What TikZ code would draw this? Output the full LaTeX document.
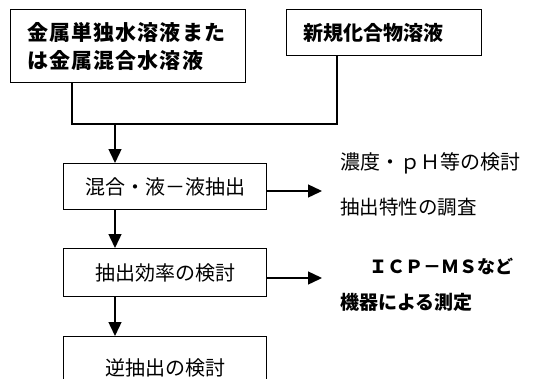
\documentclass[tikz,border=0pt]{standalone}
\usepackage{fontspec}
\setmainfont{Noto Sans CJK JP}
\newfontfamily\jpw[LetterSpace=5]{Noto Sans CJK JP}
\usetikzlibrary{arrows.meta}
\begin{document}
\begin{tikzpicture}[x=1pt,y=-1pt,
  box/.style={draw, line width=1.4pt, inner ysep=0pt},
  ar/.style={-{Triangle[length=14pt,width=13pt]}, line width=1.4pt},
  ln/.style={line width=1.4pt},
  txt/.style={inner sep=0pt, anchor=west},
  regf/.style={font=\fontsize{20pt}{24pt}\selectfont},
  boldf/.style={font=\jpw\bfseries\fontsize{21pt}{28pt}\selectfont}]
\useasboundingbox (0,0) rectangle (546,378);
\clip (0,0) rectangle (546,378);
\node[box, boldf, anchor=north west, inner xsep=17pt, text width=201pt, align=left, minimum height=73pt] (b1) at (10,9) {金属単独水溶液また\\は金属混合水溶液};
\node[box, font=\bfseries\fontsize{20pt}{24pt}\selectfont, anchor=north west, inner xsep=17pt, text width=161pt, align=left, minimum height=46pt] (b2) at (286,9) {新規化合物溶液};
\node[box, regf, anchor=north west, minimum width=203pt, minimum height=46pt] (b3) at (63,163) {混合・液－液抽出};
\node[box, regf, anchor=north west, minimum width=203pt, minimum height=48pt] (b4) at (63,248) {抽出効率の検討};
\node[box, regf, anchor=north west, minimum width=203pt, minimum height=62pt] (b5) at (63,336) {\raisebox{-9pt}{逆抽出の検討}};
\coordinate (j1) at (72,124);
\coordinate (j2) at (337,124);
\coordinate (j0) at (115,124);
\draw[ln] (b1.south -| j1) -- (j1) -- (j2) -- (b2.south -| j2);
\draw[ar] (j0) -- (b3.north -| j0);
\draw[ar] (b3.south -| j0) -- (b4.north -| j0);
\draw[ar] (b4.south -| j0) -- (b5.north -| j0);
\coordinate (r1) at (322,191);
\coordinate (r2) at (322,278);
\draw[ar] (b3.east |- r1) -- (r1);
\draw[ar] (b4.east |- r2) -- (r2);
\node[txt, regf] (t1) at (340,163) {濃度・ｐＨ等の検討};
\node[txt, font=\fontsize{19.5pt}{24pt}\selectfont] (t2) at (340,207) {抽出特性の調査};
\node[txt, font=\bfseries\fontsize{18pt}{22pt}\selectfont] (t3) at (369,266) {ＩＣＰ－ＭＳなど};
\node[txt, font=\bfseries\fontsize{19pt}{22pt}\selectfont] (t4) at (340,302) {機器による測定};
\end{tikzpicture}
\end{document}
